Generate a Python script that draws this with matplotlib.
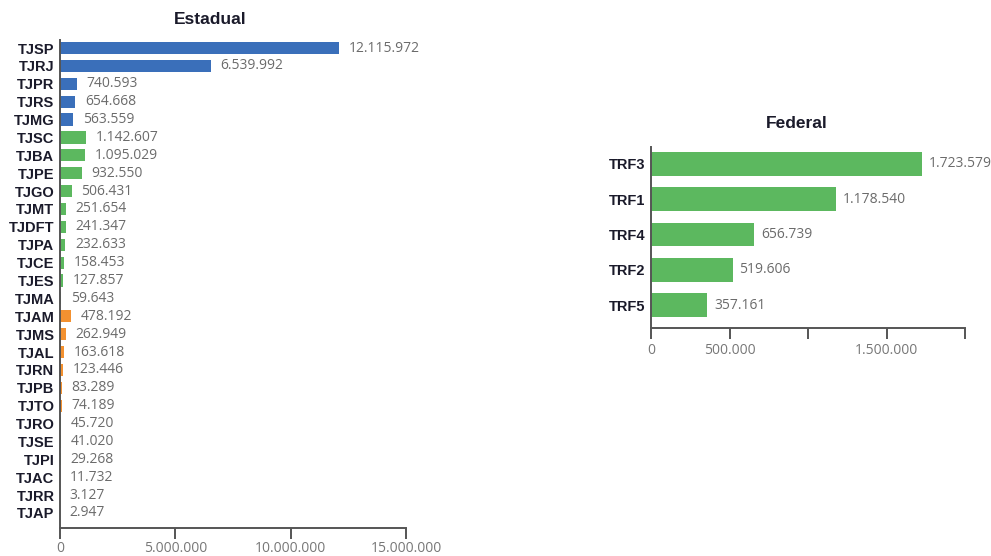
import matplotlib
matplotlib.use("Agg")
import matplotlib.pyplot as plt
from matplotlib.ticker import FuncFormatter

est_names = ["TJSP", "TJRJ", "TJPR", "TJRS", "TJMG", "TJSC", "TJBA", "TJPE", "TJGO",
             "TJMT", "TJDFT", "TJPA", "TJCE", "TJES", "TJMA", "TJAM", "TJMS", "TJAL",
             "TJRN", "TJPB", "TJTO", "TJRO", "TJSE", "TJPI", "TJAC", "TJRR", "TJAP"]
est_values = [12115972, 6539992, 740593, 654668, 563559, 1142607, 1095029, 932550, 506431,
              251654, 241347, 232633, 158453, 127857, 59643, 478192, 262949, 163618,
              123446, 83289, 74189, 45720, 41020, 29268, 11732, 3127, 2947]
est_groups = ["g"] * 5 + ["m"] * 10 + ["p"] * 6 + ["s"] * 6

fed_names = ["TRF3", "TRF1", "TRF4", "TRF2", "TRF5"]
fed_values = [1723579, 1178540, 656739, 519606, 357161]

est_ticks = [0, 5000000, 10000000, 15000000]
fed_ticks = [0, 500000, 1000000, 1500000, 2000000]
fed_tick_labels = ["0", "500.000", "", "1.500.000", ""]

colors = {"g": "#3a6fba", "m": "#5cb85f", "p": "#f39130", "s": "#5cb85f"}
GREEN = "#5cb85f"
AX = "#555555"
VAL = "#6b6b6b"


def fmt(v):
    return f"{int(v):,}".replace(",", ".")


fig = plt.figure(figsize=(9.91, 5.56), dpi=100)
plt.rcParams["font.family"] = ["Liberation Sans", "DejaVu Sans"]

ax1 = fig.add_axes([60 / 991, 1 - 528 / 556, 346 / 991, 488 / 556])
ax2 = fig.add_axes([651 / 991, 1 - 328 / 556, 314 / 991, 181 / 556])


def style(ax, pad):
    for s in ["top", "right"]:
        ax.spines[s].set_visible(False)
    for s in ["left", "bottom"]:
        ax.spines[s].set_color(AX)
        ax.spines[s].set_linewidth(1.4)
    ax.tick_params(axis="y", length=0, pad=4)
    ax.tick_params(axis="x", length=8, width=1.4, color=AX, pad=pad,
                   labelsize=10, labelcolor="#777777")
    for lab in ax.get_yticklabels():
        lab.set_fontweight("bold")
        lab.set_fontsize(10.5)
        lab.set_color("#1a1a2a")


ypos = list(range(len(est_names)))
ax1.barh(ypos, est_values, height=0.68, color=[colors[g] for g in est_groups])
ax1.set_yticks(ypos)
ax1.set_yticklabels(est_names)
ax1.set_ylim(26.84, -0.45)
ax1.set_xlim(0, 15000000)
ax1.set_xticks(est_ticks)
ax1.xaxis.set_major_formatter(FuncFormatter(lambda v, p: fmt(v)))
style(ax1, 1)
for y, v in zip(ypos, est_values):
    ax1.annotate(fmt(v), (v, y), xytext=(7, 0), textcoords="offset points",
                 va="center", ha="left", fontsize=10, color=VAL,
                 family=["Open Sans", "DejaVu Sans"])

fpos = list(range(len(fed_names)))
ax2.barh(fpos, fed_values, height=0.68, color=GREEN)
ax2.set_yticks(fpos)
ax2.set_yticklabels(fed_names)
ax2.set_ylim(4.65, -0.48)
ax2.set_xlim(0, 2000000)
ax2.set_xticks(fed_ticks)
ax2.set_xticklabels(fed_tick_labels)
style(ax2, 3)
for y, v in zip(fpos, fed_values):
    ax2.annotate(fmt(v), (v, y), xytext=(5, 0), textcoords="offset points",
                 va="center", ha="left", fontsize=10, color=VAL,
                 family=["Open Sans", "DejaVu Sans"])

for ax in (ax1, ax2):
    for lab in ax.get_xticklabels():
        lab.set_family(["Open Sans", "DejaVu Sans"])

fig.text(210 / 991, 1 - 20 / 556, "Estadual", ha="center", va="center",
         fontsize=12.5, fontweight="bold", color="#1a1a2a")
fig.text(797 / 991, 1 - 124 / 556, "Federal", ha="center", va="center",
         fontsize=12.5, fontweight="bold", color="#1a1a2a")

fig.savefig("out.png", dpi=100)
